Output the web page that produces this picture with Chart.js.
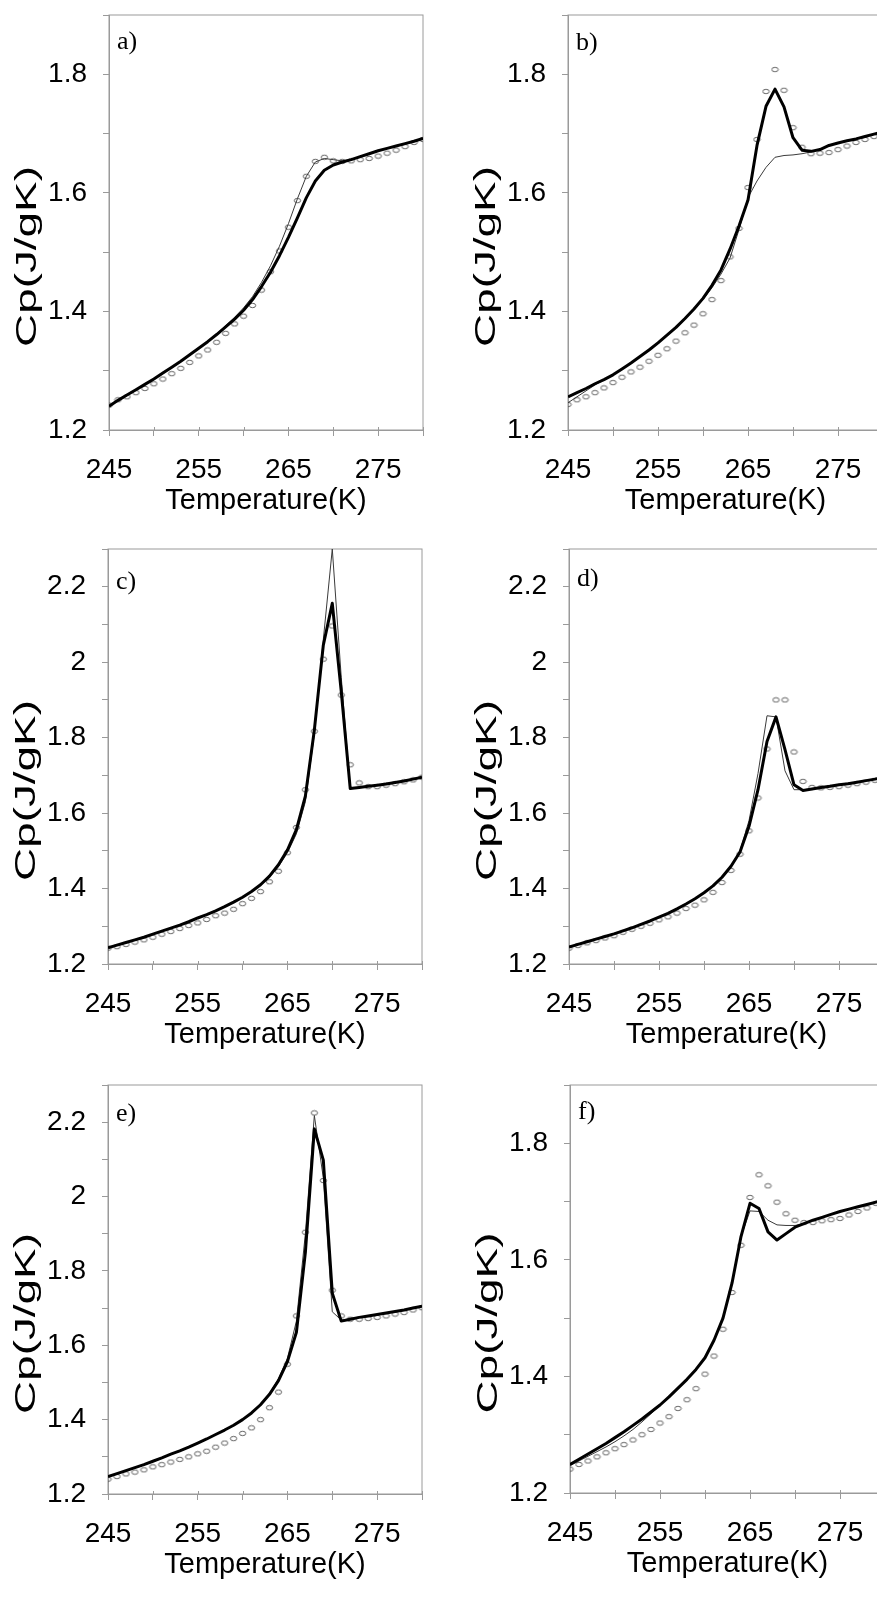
<!DOCTYPE html>
<html>
<head>
<meta charset="utf-8">
<script src="https://cdn.jsdelivr.net/npm/chart.js@4.4.0/dist/chart.umd.min.js"></script>
<style>
  html, body { margin: 0; padding: 0; background: #fff; }
  #page { position: relative; width: 877px; height: 1598px; overflow: hidden; background: #fff; }
  #page canvas { position: absolute; }
</style>
</head>
<body>
<div id="page"></div>
<script>
// Temperatur (K), satu titik per kelvin
const temps = [245, 246, 247, 248, 249, 250, 251, 252, 253, 254, 255, 256, 257, 258, 259, 260, 261, 262,
               263, 264, 265, 266, 267, 268, 269, 270, 271, 272, 273, 274, 275, 276, 277, 278, 279, 280];

// a)
const aCircles = [1.242, 1.251, 1.256, 1.263, 1.270, 1.278, 1.286, 1.295, 1.304, 1.314, 1.325, 1.335, 1.348, 1.363, 1.379, 1.392, 1.410, 1.436,
                  1.467, 1.502, 1.542, 1.587, 1.628, 1.653, 1.660, 1.654, 1.653, 1.654, 1.656, 1.658, 1.662, 1.667, 1.672, 1.678, 1.685, 1.690];
const aThin    = [1.241, 1.249, 1.258, 1.267, 1.276, 1.285, 1.295, 1.305, 1.315, 1.326, 1.337, 1.349, 1.362, 1.376, 1.390, 1.406, 1.425, 1.449,
                  1.477, 1.510, 1.548, 1.590, 1.628, 1.652, 1.658, 1.656, 1.654, 1.656, 1.661, 1.666, 1.671, 1.675, 1.679, 1.683, 1.687, 1.692];
const aThick   = [1.240, 1.250, 1.259, 1.268, 1.277, 1.286, 1.296, 1.306, 1.316, 1.327, 1.338, 1.349, 1.361, 1.374, 1.387, 1.402, 1.420, 1.442,
                  1.466, 1.494, 1.525, 1.558, 1.592, 1.620, 1.638, 1.647, 1.652, 1.656, 1.661, 1.666, 1.671, 1.675, 1.679, 1.683, 1.687, 1.692];

// b)
const bCircles = [1.243, 1.251, 1.256, 1.263, 1.271, 1.280, 1.289, 1.298, 1.306, 1.316, 1.326, 1.337, 1.350, 1.364, 1.377, 1.396, 1.420, 1.452,
                  1.492, 1.540, 1.609, 1.690, 1.771, 1.808, 1.773, 1.710, 1.677, 1.666, 1.667, 1.668, 1.673, 1.679, 1.685, 1.690, 1.695, 1.700];
const bThin    = [1.246, 1.256, 1.266, 1.276, 1.285, 1.293, 1.303, 1.313, 1.324, 1.335, 1.347, 1.360, 1.373, 1.388, 1.403, 1.420, 1.440, 1.463,
                  1.490, 1.538, 1.592, 1.620, 1.643, 1.660, 1.663, 1.664, 1.666, 1.669, 1.673, 1.680, 1.684, 1.688, 1.691, 1.695, 1.699, 1.703];
const bThick   = [1.256, 1.263, 1.270, 1.278, 1.285, 1.293, 1.303, 1.313, 1.324, 1.335, 1.347, 1.360, 1.373, 1.388, 1.404, 1.422, 1.444, 1.470,
                  1.505, 1.544, 1.588, 1.680, 1.746, 1.775, 1.745, 1.693, 1.672, 1.670, 1.673, 1.680, 1.684, 1.688, 1.691, 1.695, 1.699, 1.703];

// c)
const cCircles = [1.242, 1.246, 1.252, 1.258, 1.264, 1.271, 1.279, 1.286, 1.294, 1.302, 1.309, 1.318, 1.328, 1.335, 1.345, 1.360, 1.374, 1.392,
                  1.418, 1.446, 1.495, 1.562, 1.662, 1.817, 2.008, 2.096, 1.913, 1.728, 1.680, 1.670, 1.670, 1.674, 1.678, 1.683, 1.688, 1.695];
const cThin    = [1.243, 1.250, 1.257, 1.264, 1.271, 1.279, 1.287, 1.295, 1.303, 1.312, 1.322, 1.331, 1.341, 1.352, 1.364, 1.377, 1.391, 1.408,
                  1.430, 1.458, 1.495, 1.545, 1.630, 1.810, 2.060, 2.300, 1.960, 1.664, 1.668, 1.671, 1.674, 1.677, 1.681, 1.685, 1.690, 1.695];
const cThick   = [1.243, 1.250, 1.257, 1.264, 1.271, 1.279, 1.287, 1.295, 1.303, 1.312, 1.322, 1.331, 1.341, 1.352, 1.364, 1.377, 1.392, 1.410,
                  1.433, 1.463, 1.502, 1.556, 1.645, 1.820, 2.045, 2.156, 1.922, 1.665, 1.668, 1.671, 1.674, 1.677, 1.681, 1.685, 1.690, 1.695];

// d)
const dCircles = [1.242, 1.249, 1.256, 1.262, 1.269, 1.275, 1.284, 1.292, 1.300, 1.308, 1.317, 1.325, 1.335, 1.347, 1.356, 1.370, 1.390, 1.416,
                  1.448, 1.491, 1.553, 1.640, 1.770, 1.900, 1.900, 1.762, 1.684, 1.668, 1.667, 1.668, 1.670, 1.674, 1.678, 1.682, 1.687, 1.692];
const dThin    = [1.245, 1.252, 1.259, 1.266, 1.273, 1.280, 1.288, 1.296, 1.305, 1.314, 1.324, 1.334, 1.346, 1.359, 1.373, 1.389, 1.407, 1.430,
                  1.460, 1.500, 1.580, 1.705, 1.858, 1.855, 1.712, 1.662, 1.662, 1.664, 1.668, 1.671, 1.675, 1.678, 1.682, 1.686, 1.690, 1.695];
const dThick   = [1.245, 1.252, 1.259, 1.266, 1.273, 1.280, 1.288, 1.296, 1.305, 1.314, 1.324, 1.334, 1.346, 1.359, 1.373, 1.389, 1.407, 1.430,
                  1.459, 1.497, 1.565, 1.662, 1.790, 1.855, 1.768, 1.675, 1.660, 1.664, 1.668, 1.671, 1.675, 1.678, 1.682, 1.686, 1.690, 1.695];

// e)
const eCircles = [1.240, 1.247, 1.254, 1.259, 1.265, 1.273, 1.279, 1.286, 1.293, 1.300, 1.308, 1.315, 1.326, 1.337, 1.349, 1.363, 1.378, 1.400,
                  1.432, 1.474, 1.549, 1.679, 1.904, 2.225, 2.043, 1.748, 1.679, 1.670, 1.670, 1.672, 1.675, 1.679, 1.684, 1.688, 1.695, 1.701];
const eThin    = [1.246, 1.254, 1.262, 1.270, 1.278, 1.287, 1.296, 1.306, 1.315, 1.325, 1.336, 1.347, 1.359, 1.371, 1.384, 1.399, 1.417, 1.440,
                  1.470, 1.510, 1.565, 1.665, 1.900, 2.218, 2.050, 1.690, 1.668, 1.670, 1.675, 1.679, 1.683, 1.687, 1.691, 1.695, 1.700, 1.705];
const eThick   = [1.247, 1.255, 1.263, 1.271, 1.279, 1.288, 1.297, 1.307, 1.316, 1.326, 1.337, 1.348, 1.360, 1.372, 1.385, 1.400, 1.418, 1.440,
                  1.468, 1.505, 1.556, 1.635, 1.850, 2.182, 2.098, 1.740, 1.665, 1.670, 1.675, 1.679, 1.683, 1.687, 1.691, 1.695, 1.700, 1.705];

// f)
const fCircles = [1.241, 1.249, 1.255, 1.262, 1.269, 1.276, 1.283, 1.291, 1.300, 1.309, 1.320, 1.331, 1.345, 1.360, 1.379, 1.404, 1.435, 1.481,
                  1.544, 1.625, 1.707, 1.746, 1.727, 1.699, 1.679, 1.668, 1.664, 1.664, 1.667, 1.669, 1.671, 1.677, 1.683, 1.689, 1.697, 1.703];
const fThin    = [1.247, 1.255, 1.263, 1.271, 1.279, 1.288, 1.298, 1.309, 1.322, 1.336, 1.351, 1.365, 1.380, 1.395, 1.412, 1.432, 1.462, 1.500,
                  1.560, 1.640, 1.684, 1.683, 1.668, 1.660, 1.659, 1.659, 1.662, 1.668, 1.673, 1.678, 1.683, 1.687, 1.691, 1.695, 1.699, 1.703];
const fThick   = [1.249, 1.258, 1.267, 1.276, 1.285, 1.295, 1.305, 1.316, 1.327, 1.339, 1.351, 1.365, 1.380, 1.395, 1.412, 1.432, 1.462, 1.500,
                  1.560, 1.640, 1.697, 1.688, 1.648, 1.634, 1.645, 1.656, 1.662, 1.668, 1.673, 1.678, 1.683, 1.687, 1.691, 1.695, 1.699, 1.703];

const xTitle = "Temperature(K)";
const yTitle = "Cp(J/gK)";

// box = posisi canvas di halaman, area = kotak plot (kiri, atas, kanan, bawah)
const panels = [
    { label: "a)", circles: aCircles, thin: aThin, thick: aThick, yMax: 1.9, box: [0, 0, 440, 530],      area: [109, 15, 423, 430],    labelDy: 34 },
    { label: "b)", circles: bCircles, thin: bThin, thick: bThick, yMax: 1.9, box: [440, 0, 460, 530],    area: [568, 15, 883, 430],    labelDy: 35 },
    { label: "c)", circles: cCircles, thin: cThin, thick: cThick, yMax: 2.3, box: [0, 530, 440, 530],    area: [108, 549, 422, 964],   labelDy: 40 },
    { label: "d)", circles: dCircles, thin: dThin, thick: dThick, yMax: 2.3, box: [440, 530, 460, 530],  area: [569, 549, 884, 964],   labelDy: 37 },
    { label: "e)", circles: eCircles, thin: eThin, thick: eThick, yMax: 2.3, box: [0, 1060, 440, 538],   area: [108, 1085, 422, 1494], labelDy: 36 },
    { label: "f)", circles: fCircles, thin: fThin, thick: fThick, yMax: 1.9, box: [440, 1060, 460, 538], area: [570, 1085, 885, 1493], labelDy: 34 },
];

const axisColor = "#9a9a9a";
const sansFont = "'Liberation Sans', Arial, sans-serif";

// Titik data berbentuk elips kecil terbuka
function createRing() {
    const c = document.createElement("canvas");
    c.width = 9;
    c.height = 7;
    const ctx = c.getContext("2d");
    ctx.strokeStyle = "#505050";
    ctx.lineWidth = 0.9;
    ctx.beginPath();
    ctx.ellipse(4.5, 3.5, 3.2, 2.2, 0, 0, Math.PI * 2);
    ctx.stroke();
    return c;
}
const ring = createRing();

function toPoints(values) {
    return temps.map((t, i) => ({ x: t, y: values[i] }));
}

// Bingkai, judul sumbu dan label panel
function decorations(panel) {
    return {
        id: "decorations",
        beforeDatasetsDraw(chart) {
            const { ctx, chartArea: a } = chart;
            ctx.save();
            ctx.strokeStyle = axisColor;
            ctx.lineWidth = 1;
            ctx.strokeRect(a.left, a.top, a.right - a.left, a.bottom - a.top);

            // tanda tick sumbu x sedikit menembus ke dalam plot
            const xScale = chart.scales.x;
            ctx.beginPath();
            xScale.ticks.forEach((t) => {
                const px = Math.round(xScale.getPixelForValue(t.value)) + 0.5;
                ctx.moveTo(px, a.bottom);
                ctx.lineTo(px, a.bottom - 3);
            });
            ctx.stroke();
            ctx.restore();
        },
        afterDraw(chart) {
            const { ctx, chartArea: a } = chart;
            ctx.save();
            ctx.fillStyle = "#000";

            ctx.font = "29px " + sansFont;
            ctx.textAlign = "center";
            ctx.textBaseline = "alphabetic";
            ctx.fillText(xTitle, (a.left + a.right) / 2, a.bottom + 79);

            // judul sumbu y: diputar dan direntang seperti aslinya
            ctx.save();
            ctx.translate(a.left - 81.5, (a.top + a.bottom) / 2 + 34);
            ctx.rotate(-Math.PI / 2);
            ctx.font = "30px " + sansFont;
            const w = ctx.measureText(yTitle).width;
            ctx.scale(181 / w, 1);
            ctx.textBaseline = "middle";
            ctx.fillText(yTitle, 0, 0);
            ctx.restore();

            ctx.font = "26px 'Liberation Serif', 'Times New Roman', serif";
            ctx.textAlign = "left";
            ctx.fillText(panel.label, a.left + 8, a.top + panel.labelDy);
            ctx.restore();
        },
    };
}

function buildPanel(panel) {
    const page = document.getElementById("page");
    const [cx, cy, cw, ch] = panel.box;
    const [left, top, right, bottom] = panel.area;

    const canvas = document.createElement("canvas");
    canvas.width = cw;
    canvas.height = ch;
    canvas.style.left = cx + "px";
    canvas.style.top = cy + "px";
    canvas.style.width = cw + "px";
    canvas.style.height = ch + "px";
    page.appendChild(canvas);

    const yAxisWidth = left - cx;
    const xAxisHeight = cy + ch - bottom;

    const config = {
        type: "line",
        data: {
            datasets: [
                {
                    data: toPoints(panel.circles),
                    showLine: false,
                    pointStyle: ring,
                    pointRadius: 3,
                    order: 3,
                },
                {
                    data: toPoints(panel.thin),
                    borderColor: "#3a3a3a",
                    borderWidth: 1,
                    pointRadius: 0,
                    tension: 0,
                    order: 2,
                },
                {
                    data: toPoints(panel.thick),
                    borderColor: "#000",
                    borderWidth: 3,
                    borderJoinStyle: "round",
                    pointRadius: 0,
                    tension: 0,
                    order: 1,
                },
            ],
        },
        options: {
            responsive: false,
            animation: false,
            devicePixelRatio: 1,
            layout: {
                padding: { left: 0, top: top - cy, right: cx + cw - right, bottom: 0 },
            },
            plugins: {
                legend: { display: false },
                tooltip: { enabled: false },
            },
            scales: {
                x: {
                    type: "linear",
                    min: 245,
                    max: 280,
                    afterFit: (scale) => {
                        scale.height = xAxisHeight;
                        scale.paddingLeft = 0;
                        scale.paddingRight = 0;
                    },
                    grid: { drawOnChartArea: false, tickLength: 6, color: axisColor },
                    border: { color: axisColor },
                    ticks: {
                        stepSize: 5,
                        autoSkip: false,
                        maxRotation: 0,
                        padding: 17,
                        color: "#000",
                        font: { family: sansFont, size: 28 },
                        callback: (val) => ((val - 245) % 10 === 0 ? String(val) : ""),
                    },
                },
                y: {
                    type: "linear",
                    min: 1.2,
                    max: panel.yMax,
                    afterFit: (scale) => {
                        scale.width = yAxisWidth;
                        scale.paddingTop = 0;
                        scale.paddingBottom = 0;
                    },
                    grid: { drawOnChartArea: false, tickLength: 6, color: axisColor },
                    border: { color: axisColor },
                    ticks: {
                        stepSize: 0.1,
                        autoSkip: false,
                        padding: 16,
                        color: "#000",
                        font: { family: sansFont, size: 28 },
                        callback: (val) => {
                            const k = Math.round(val * 10);
                            return k % 2 === 0 ? String(k / 10) : "";
                        },
                    },
                },
            },
        },
        plugins: [decorations(panel)],
    };

    canvas.chart = new Chart(canvas, config);
}

panels.forEach(buildPanel);
</script>
</body>
</html>
